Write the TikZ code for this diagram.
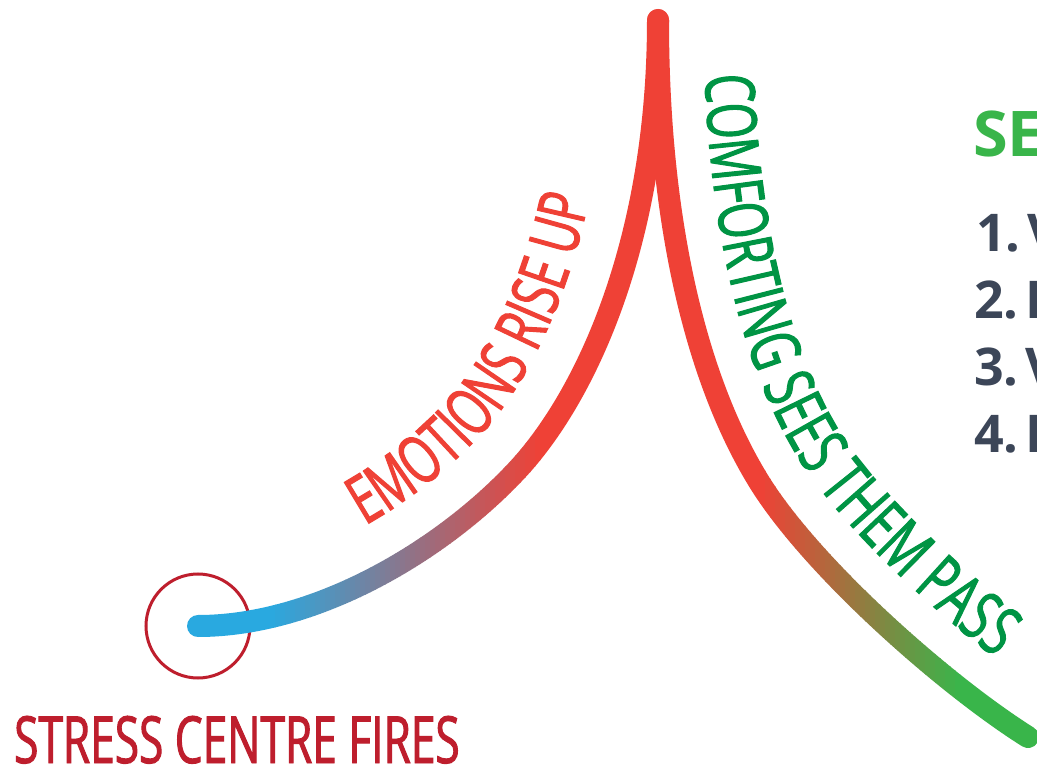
\documentclass[tikz,border=0pt]{standalone}
\usepackage{fontspec}
\setmainfont{Open Sans}
\newfontfamily\condfont{Open Sans}[FakeStretch=0.68, FakeBold=1.5]
\usetikzlibrary{decorations.text}

\definecolor{skyblue}{HTML}{29A9E0}
\definecolor{warmred}{HTML}{EF4136}
\definecolor{leafgreen}{HTML}{39B54A}
\definecolor{deepred}{HTML}{BE1E2D}
\definecolor{forest}{HTML}{009444}
\definecolor{slate}{HTML}{3C4658}

% the rising branch (left) and the falling branch (right)
\def\risecurve{(198,626) .. controls (318,626) and (446,548) .. (520,467) .. controls (587,393) and (658,240) .. (658,20)}
\def\fallcurve{(658,20) .. controls (658,220) and (695.5,377.5) .. (758,480) .. controls (810,565.4) and (943.4,683.7) .. (1028,737)}
% baselines for the lettering, running beside each branch
\def\risetext{(198,575) .. controls (303.6,575) and (417.4,504.4) .. (482.3,432.8) .. controls (543.9,364.7) and (607,222.4) .. (607,20)}
\def\falltext{(704,20) .. controls (704,210) and (737.9,358.6) .. (797.3,456) .. controls (846.5,536.6) and (972.6,647.8) .. (1052.5,698.1)}

\begin{document}
\begin{tikzpicture}[x=1pt, y=-1pt,
  curve/.style={line width=22pt, line cap=round, line join=round},
  listitem/.style={anchor=base west, inner sep=0pt, text=slate,
    font=\fontsize{52}{52}\selectfont\bfseries}]
\useasboundingbox (0,0) rectangle (1037,767);
\fill[white] (0,0) rectangle (1037,767);

% starting ring
\node[circle, draw=deepred, line width=3pt, minimum size=104pt, inner sep=0pt] (ring) at (198,626) {};

% rising branch: blue -> red, blended along x
\begin{scope}
  \clip (0,0) rectangle (270,767);
  \draw[curve, skyblue] \risecurve;
\end{scope}
\foreach \i in {0,...,53} {
  \pgfmathsetmacro\xa{270+5*\i}
  \pgfmathsetmacro\mix{(\i+0.5)/54*100}
  \begin{scope}
    \clip (\xa,0) rectangle (\xa+5.6,767);
    \draw[curve, color=warmred!\mix!skyblue] \risecurve;
  \end{scope}
}
\begin{scope}
  \clip (540,0) rectangle (1037,767);
  \draw[curve, warmred] \risecurve;
\end{scope}

% falling branch: red -> green, blended along x
\begin{scope}
  \clip (0,0) rectangle (760,767);
  \draw[curve, warmred] \fallcurve;
\end{scope}
\foreach \i in {0,...,39} {
  \pgfmathsetmacro\xa{760+5*\i}
  \pgfmathsetmacro\mix{(\i+0.5)/40*100}
  \begin{scope}
    \clip (\xa,0) rectangle (\xa+5.6,767);
    \draw[curve, color=leafgreen!\mix!warmred] \fallcurve;
  \end{scope}
}
\begin{scope}
  \clip (960,0) rectangle (1037,767);
  \draw[curve, leafgreen] \fallcurve;
\end{scope}

% labels along the branches
\path[decorate, decoration={text along path, text color=warmred,
  text={|\condfont\fontsize{67}{67}\selectfont|EMOTIONS RISE UP},
  text align={left indent=176pt}}] \risetext;
\path[decorate, decoration={text along path, text color=forest,
  text={|\condfont\fontsize{68.5}{68.5}\selectfont|COMFORTING SEES THEM PASS},
  text align={left indent=55pt}}] \falltext;

\node[anchor=base west, inner sep=0pt, text=deepred,
  font=\condfont\fontsize{65}{65}\selectfont] (stress) at (14,763) {STRESS CENTRE FIRES};

% heading and list on the right
\node[anchor=base west, inner sep=0pt, text=leafgreen,
  font=\fontsize{63}{63}\selectfont\bfseries] (head) at (973,157) {SE};
\node[listitem] (item1) at (976,252) {1.\kern7pt V};
\node[listitem] (item2) at (974,319) {2.\kern7pt H};
\node[listitem] (item3) at (974,386) {3.\kern7pt V};
\node[listitem] (item4) at (974,453) {4.\kern7pt H};
\end{tikzpicture}
\end{document}
